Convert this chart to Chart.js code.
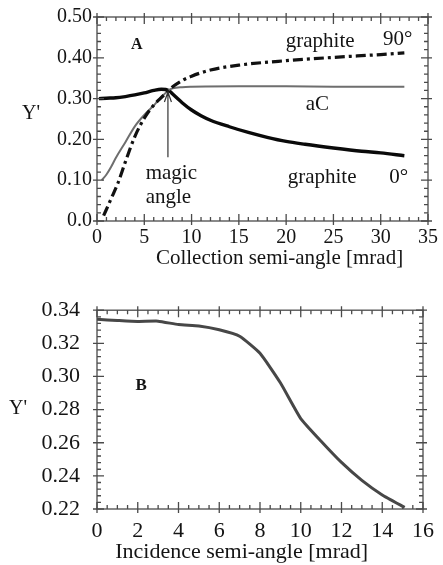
<!DOCTYPE html>
<html><head><meta charset="utf-8">
<script src="https://cdn.jsdelivr.net/npm/chart.js@4.4.0/dist/chart.umd.min.js"></script>
<style>
html,body{margin:0;padding:0;background:#fff;width:443px;height:565px;overflow:hidden}
#wa{position:absolute;left:0;top:0;width:443px;height:280px}
#wb{position:absolute;left:0;top:280px;width:443px;height:285px}
</style></head><body>
<div id="wa"><canvas id="ca" width="443" height="280"></canvas></div>
<div id="wb"><canvas id="cb" width="443" height="285"></canvas></div>
<script>
// ---------- Panel A data ----------
const xGraphite0 = [0.2, 1, 2, 3, 4, 5, 6, 6.8, 7.6, 8, 9, 10, 11, 12, 14, 16, 18, 20, 22, 25, 28, 30, 32.5];
const yGraphite0 = [0.300, 0.301, 0.302, 0.305, 0.309, 0.314, 0.320, 0.323, 0.320, 0.311, 0.290, 0.272, 0.258, 0.247, 0.231, 0.217, 0.205, 0.195, 0.188, 0.179, 0.171, 0.167, 0.160];
const xAC = [0.5, 1, 1.5, 2, 3, 4, 5, 6, 6.5, 7, 7.6, 8, 9, 10, 15, 20, 25, 30, 32.5];
const yAC = [0.100, 0.114, 0.133, 0.155, 0.193, 0.232, 0.260, 0.283, 0.296, 0.308, 0.321, 0.325, 0.328, 0.329, 0.330, 0.330, 0.329, 0.329, 0.329];
const xGraphite90 = [0.7, 1.5, 2.2, 3, 4, 5, 6, 7, 7.6, 8, 9, 10, 12, 15, 20, 25, 30, 32.5];
const yGraphite90 = [0.013, 0.055, 0.092, 0.145, 0.207, 0.252, 0.284, 0.307, 0.321, 0.329, 0.344, 0.355, 0.370, 0.382, 0.393, 0.401, 0.408, 0.412];
const xTicksA = [0, 5, 10, 15, 20, 25, 30, 35];
const xTickLabelsA = ['0', '5', '10', '15', '20', '25', '30', '35'];
const yTicksA = [0, 0.1, 0.2, 0.3, 0.4, 0.5];
const yTickLabelsA = ['0.0', '0.10', '0.20', '0.30', '0.40', '0.50'];

// ---------- Panel B data ----------
const xIncidence = [0, 1, 2, 3, 4, 5, 6, 7, 8, 9, 10, 11, 12, 13, 14, 15.1];
const yIncidence = [0.3345, 0.3338, 0.3332, 0.3334, 0.3313, 0.3305, 0.3282, 0.3243, 0.3140, 0.2962, 0.2746, 0.2609, 0.2481, 0.2373, 0.2285, 0.2210];
const xTicksB = [0, 2, 4, 6, 8, 10, 12, 14, 16];
const xTickLabelsB = ['0', '2', '4', '6', '8', '10', '12', '14', '16'];
const yTicksB = [0.22, 0.24, 0.26, 0.28, 0.30, 0.32, 0.34];
const yTickLabelsB = ['0.22', '0.24', '0.26', '0.28', '0.30', '0.32', '0.34'];

const SERIF = "'Liberation Serif', 'DejaVu Serif', serif";
const INK = '#141414';

function pts(xs, ys) { return xs.map((x, i) => ({ x: x, y: ys[i] })); }
function steps(min, max, step) { const out = []; for (let v = min; v <= max + step / 1000; v += step) out.push(+v.toFixed(6)); return out; }

const framePlugin = {
  id: 'frame',
  afterDatasetsDraw(chart, args, o) {
    const { ctx, chartArea: a, scales: { x, y } } = chart;
    ctx.save();
    ctx.strokeStyle = '#4a4a4a';
    ctx.lineWidth = 1.3;
    ctx.strokeRect(a.left, a.top, a.right - a.left, a.bottom - a.top);
    ctx.beginPath();
    o.xMinor.forEach(v => { const p = x.getPixelForValue(v); ctx.moveTo(p, a.bottom); ctx.lineTo(p, a.bottom - 4); ctx.moveTo(p, a.top); ctx.lineTo(p, a.top + 4); });
    o.yMinor.forEach(v => { const p = y.getPixelForValue(v); ctx.moveTo(a.left, p); ctx.lineTo(a.left + 4, p); ctx.moveTo(a.right, p); ctx.lineTo(a.right - 4, p); });
    o.xMajor.forEach(v => { const p = x.getPixelForValue(v); ctx.moveTo(p, a.bottom + 4); ctx.lineTo(p, a.bottom - 7); ctx.moveTo(p, a.top - 4); ctx.lineTo(p, a.top + 7); });
    o.yMajor.forEach(v => { const p = y.getPixelForValue(v); ctx.moveTo(a.left - 4, p); ctx.lineTo(a.left + 7, p); ctx.moveTo(a.right + 4, p); ctx.lineTo(a.right - 7, p); });
    ctx.stroke();
    ctx.restore();
  }
};

const notesPlugin = {
  id: 'notes',
  afterDraw(chart, args, o) {
    const { ctx, chartArea: a, scales: { x, y } } = chart;
    ctx.save();
    ctx.fillStyle = INK;
    ctx.textBaseline = 'middle';
    (o.texts || []).forEach(t => {
      ctx.font = (t.bold ? 'bold ' : '') + t.size + 'px ' + SERIF;
      ctx.textAlign = t.align || 'center';
      ctx.fillText(t.text, x.getPixelForValue(t.x), y.getPixelForValue(t.y));
    });
    if (o.yTitle) {
      ctx.font = o.yTitle.size + 'px ' + SERIF;
      ctx.textAlign = 'center';
      ctx.fillText(o.yTitle.text, a.left - o.yTitle.dx, y.getPixelForValue(o.yTitle.y));
    }
    if (o.xTitle) {
      ctx.font = o.xTitle.size + 'px ' + SERIF;
      ctx.textAlign = 'center';
      ctx.fillText(o.xTitle.text, x.getPixelForValue(o.xTitle.x), a.bottom + o.xTitle.dy);
    }
    if (o.arrow) {
      const px = x.getPixelForValue(o.arrow.x);
      const y0 = y.getPixelForValue(o.arrow.from), y1 = y.getPixelForValue(o.arrow.to);
      ctx.strokeStyle = '#333'; ctx.lineWidth = 1.2;
      ctx.beginPath();
      ctx.moveTo(px, y0); ctx.lineTo(px, y1);
      ctx.moveTo(px - 3.5, y1 + 10); ctx.lineTo(px, y1); ctx.lineTo(px + 3.5, y1 + 10);
      ctx.stroke();
    }
    ctx.restore();
  }
};

function axes(xmin, xmax, xTicks, xLabels, ymin, ymax, yTicks, yLabels, tickSize, yPad, xPad, xH, yW) {
  return {
    x: {
      type: 'linear', min: xmin, max: xmax,
      afterBuildTicks: s => { s.ticks = xTicks.map(v => ({ value: v })); },
      afterFit: s => { s.height = xH; },
      ticks: { callback: (v, i) => xLabels[i], font: { family: SERIF, size: tickSize }, color: INK, padding: xPad, maxRotation: 0, autoSkip: false },
      grid: { display: false, drawTicks: false }, border: { display: false }
    },
    y: {
      type: 'linear', min: ymin, max: ymax,
      afterBuildTicks: s => { s.ticks = yTicks.map(v => ({ value: v })); },
      afterFit: s => { s.width = yW; },
      ticks: { callback: (v, i) => yLabels[i], font: { family: SERIF, size: tickSize }, color: INK, padding: yPad, autoSkip: false },
      grid: { display: false, drawTicks: false }, border: { display: false }
    }
  };
}

new Chart(document.getElementById('ca'), {
  type: 'line',
  data: {
    datasets: [
      { label: 'graphite 90°', data: pts(xGraphite90, yGraphite90), borderColor: '#111', borderWidth: 3.2, borderDash: [10, 4, 3, 4], pointRadius: 0, cubicInterpolationMode: 'monotone', fill: false },
      { label: 'aC', data: pts(xAC, yAC), borderColor: '#6e6e6e', borderWidth: 2, pointRadius: 0, cubicInterpolationMode: 'monotone', fill: false },
      { label: 'graphite 0°', data: pts(xGraphite0, yGraphite0), borderColor: '#0a0a0a', borderWidth: 3.4, pointRadius: 0, cubicInterpolationMode: 'monotone', fill: false }
    ]
  },
  options: {
    responsive: false, animation: false, devicePixelRatio: 1,
    layout: { autoPadding: false, padding: { left: 0, right: 10, top: 16, bottom: 0 } },
    plugins: {
      legend: { display: false }, tooltip: { enabled: false },
      frame: { xMajor: xTicksA, xMinor: steps(0, 35, 1), yMajor: yTicksA, yMinor: steps(0, 0.5, 0.02) },
      notes: {
        texts: [
          { text: 'A', x: 4.2, y: 0.432, size: 16, bold: true },
          { text: 'graphite', x: 23.6, y: 0.441, size: 21 },
          { text: '90°', x: 31.8, y: 0.445, size: 21 },
          { text: 'aC', x: 23.3, y: 0.286, size: 21 },
          { text: 'graphite', x: 23.8, y: 0.107, size: 21 },
          { text: '0°', x: 31.9, y: 0.107, size: 21 },
          { text: 'magic', x: 5.15, y: 0.117, size: 21, align: 'left' },
          { text: 'angle', x: 5.15, y: 0.058, size: 21, align: 'left' }
        ],
        yTitle: { text: "Y'", size: 20, dx: 66, y: 0.263 },
        xTitle: { text: 'Collection semi-angle [mrad]', size: 21, x: 19.3, dy: 37 },
        arrow: { x: 7.5, from: 0.156, to: 0.316 }
      }
    },
    scales: axes(0, 35, xTicksA, xTickLabelsA, 0, 0.5, yTicksA, yTickLabelsA, 20, 5, 5, 59, 97)
  },
  plugins: [framePlugin, notesPlugin]
});

new Chart(document.getElementById('cb'), {
  type: 'line',
  data: {
    datasets: [
      { label: 'Y\'', data: pts(xIncidence, yIncidence), borderColor: '#474747', borderWidth: 3, pointRadius: 0, tension: 0.15, fill: false }
    ]
  },
  options: {
    responsive: false, animation: false, devicePixelRatio: 1,
    layout: { autoPadding: false, padding: { left: 0, right: 9, top: 26, bottom: 0 } },
    plugins: {
      legend: { display: false }, tooltip: { enabled: false },
      frame: { xMajor: xTicksB, xMinor: steps(0, 16, 0.5), yMajor: yTicksB, yMinor: steps(0.22, 0.34, 0.004) },
      notes: {
        texts: [
          { text: 'B', x: 2.17, y: 0.2944, size: 17, bold: true }
        ],
        yTitle: { text: "Y'", size: 20, dx: 79, y: 0.2803 },
        xTitle: { text: 'Incidence semi-angle [mrad]', size: 22, x: 7.1, dy: 43 }
      }
    },
    scales: axes(0, 16, xTicksB, xTickLabelsB, 0.22, 0.34, yTicksB, yTickLabelsB, 22, 17, 9, 56, 97)
  },
  plugins: [framePlugin, notesPlugin]
});
</script>
</body></html>
